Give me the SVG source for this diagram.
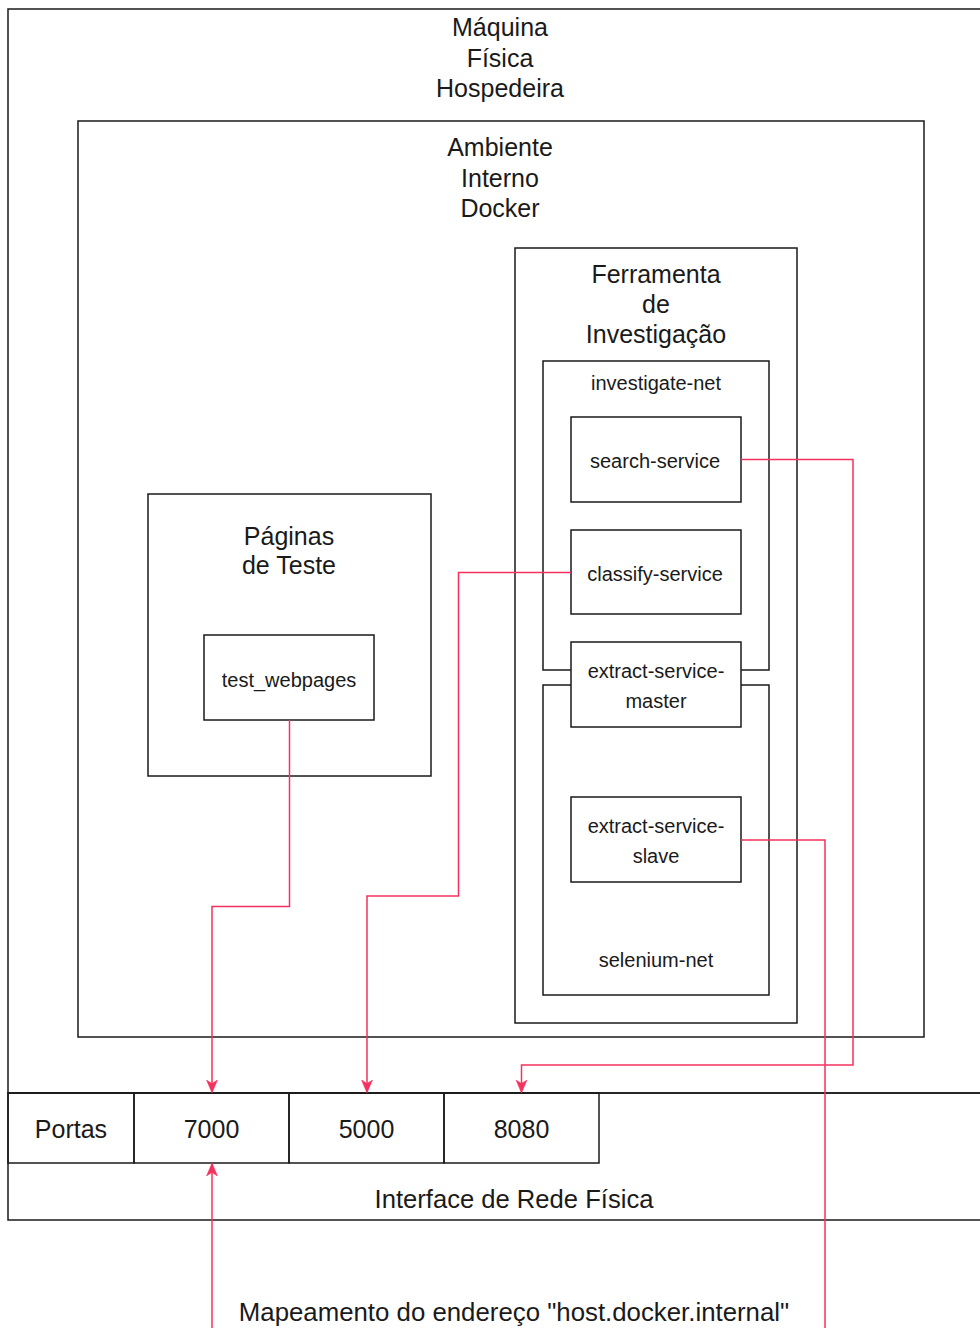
<svg xmlns="http://www.w3.org/2000/svg" width="980" height="1328" viewBox="0 0 980 1328">
<style>
.box{fill:none;stroke:#1a1a1a;stroke-width:1.5}
.bg{fill:#ffffff;stroke:#1a1a1a;stroke-width:1.5}
.lg{font-family:"Liberation Sans",Arial,sans-serif;font-size:25px;fill:#1a1a1a;text-anchor:middle}
.sm{font-family:"Liberation Sans",Arial,sans-serif;font-size:20px;fill:#1a1a1a;text-anchor:middle}
.edge{fill:none;stroke:#F5325F;stroke-width:1.5}
</style>
<defs>
<marker id="arr" viewBox="0 0 13 13" refX="12" refY="6.5" markerWidth="13" markerHeight="13" markerUnits="userSpaceOnUse" orient="auto">
<path d="M0,1 L13,6.5 L0,12 L3.5,6.5 Z" fill="#F5325F" stroke="#F5325F" stroke-width="0.5"/>
</marker>
</defs>
<rect width="980" height="1328" fill="#ffffff"/>
<g id="maquina">
<rect class="box" x="8" y="9" width="990" height="1084"/>
<text class="lg" x="500" y="36">Máquina</text>
<text class="lg" x="500" y="67">Física</text>
<text class="lg" x="500" y="97">Hospedeira</text>
</g>
<g id="docker">
<rect class="box" x="78" y="121" width="846" height="916"/>
<text class="lg" x="500" y="156">Ambiente</text>
<text class="lg" x="500" y="187">Interno</text>
<text class="lg" x="500" y="217">Docker</text>
</g>
<g id="ferramenta">
<rect class="box" x="515" y="248" width="282" height="775"/>
<text class="lg" x="656" y="283">Ferramenta</text>
<text class="lg" x="656" y="313">de</text>
<text class="lg" x="656" y="343">Investigação</text>
</g>
<g id="investigate-net">
<rect class="box" x="543" y="361" width="226" height="309"/>
<text class="sm" x="656" y="390">investigate-net</text>
</g>
<g id="selenium-net">
<rect class="box" x="543" y="685" width="226" height="310"/>
<text class="sm" x="656" y="967">selenium-net</text>
</g>
<g id="search-service">
<rect class="bg" x="571" y="417" width="170" height="85"/>
<text class="sm" x="655" y="468">search-service</text>
</g>
<g id="classify-service">
<rect class="bg" x="571" y="530" width="170" height="84"/>
<text class="sm" x="655" y="581">classify-service</text>
</g>
<g id="extract-service-master">
<rect class="bg" x="571" y="642" width="170" height="85"/>
<text class="sm" x="656" y="678">extract-service-</text>
<text class="sm" x="656" y="708">master</text>
</g>
<g id="extract-service-slave">
<rect class="bg" x="571" y="797" width="170" height="85"/>
<text class="sm" x="656" y="833">extract-service-</text>
<text class="sm" x="656" y="863">slave</text>
</g>
<g id="paginas">
<rect class="box" x="148" y="494" width="283" height="282"/>
<text class="lg" x="289" y="545">Páginas</text>
<text class="lg" x="289" y="574">de Teste</text>
</g>
<g id="test_webpages">
<rect class="bg" x="204" y="635" width="170" height="85"/>
<text class="sm" x="289" y="687">test_webpages</text>
</g>
<g id="interface">
<rect class="box" x="8" y="1093" width="1012" height="127"/>
<text class="lg" x="514" y="1208" style="font-size:25.6px">Interface de Rede Física</text>
</g>
<g id="portas">
<rect class="box" x="8" y="1093" width="126" height="70"/>
<text class="lg" x="71" y="1138">Portas</text>
</g>
<g id="p7000">
<rect class="box" x="134" y="1093" width="155" height="70"/>
<text class="lg" x="211.5" y="1138">7000</text>
</g>
<g id="p5000">
<rect class="box" x="289" y="1093" width="155" height="70"/>
<text class="lg" x="366.5" y="1138">5000</text>
</g>
<g id="p8080">
<rect class="box" x="444" y="1093" width="155" height="70"/>
<text class="lg" x="521.5" y="1138">8080</text>
</g>
<g id="mapeamento">
<text class="lg" x="514" y="1321" style="font-size:25.8px">Mapeamento do endereço "host.docker.internal"</text>
</g>
<g id="connectors">
<path class="edge" d="M289.5,720 V906.5 H212 V1092" marker-end="url(#arr)"/>
<path class="edge" d="M571,572.5 H458.5 V896 H367 V1092" marker-end="url(#arr)"/>
<path class="edge" d="M741,459.5 H853 V1065 H521.5 V1092" marker-end="url(#arr)"/>
<path class="edge" d="M741,840 H825 V1330"/>
<path class="edge" d="M212,1330 V1164" marker-end="url(#arr)"/>
</g>
</svg>
